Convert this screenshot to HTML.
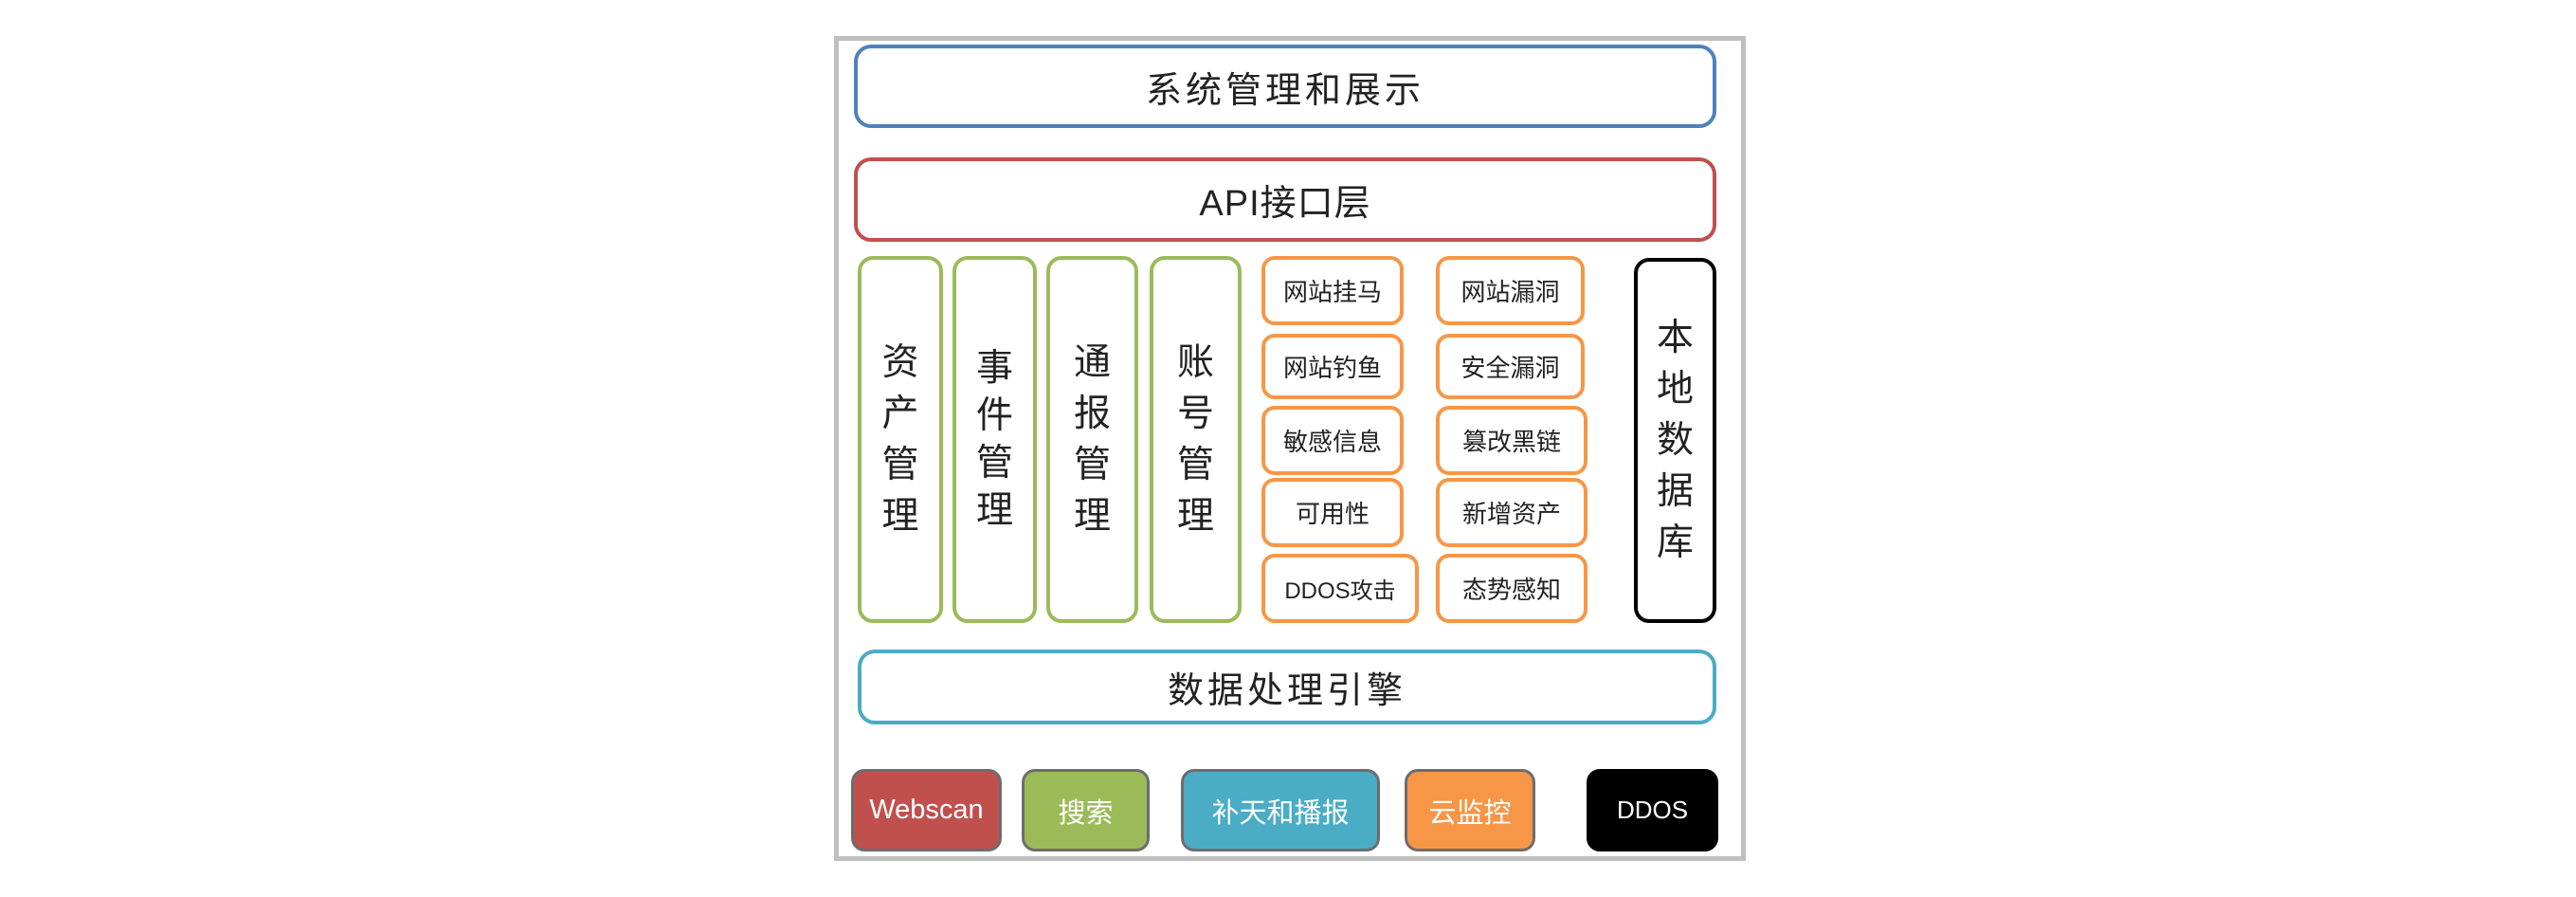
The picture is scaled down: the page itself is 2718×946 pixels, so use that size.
<!DOCTYPE html>
<html><head><meta charset="utf-8"><style>
body{margin:0;width:2718px;height:946px;background:#fff;position:relative;overflow:hidden;font-family:"Liberation Sans","Noto Sans CJK SC",sans-serif;}
.b{position:absolute;box-sizing:border-box;display:flex;align-items:center;justify-content:center;text-align:center;color:#222;}
.frame{left:880px;top:38px;width:962px;height:870px;border:5px solid #bfbfbf;}
.wide{border-radius:18px;border:4px solid;font-size:38px;letter-spacing:4px;}
.col{border:4px solid #9bbb59;border-radius:16px;font-size:39px;line-height:54px;top:270px;height:387px;}
.o{border:4px solid #f79646;border-radius:14px;font-size:26px;}
.bt{border-radius:14px;border:3px solid #6d6d6d;color:#fff;font-size:29px;top:811px;height:87px;}
</style></head><body>
<div class="b frame"></div>
<div class="b wide" style="left:901px;top:47px;width:910px;height:88px;border-color:#4f81bd">系统管理和展示</div>
<div class="b wide" style="left:901px;top:166px;width:910px;height:89px;border-color:#c0504d;letter-spacing:1px">API接口层</div>
<div class="b col" style="left:905px;width:90px">资<br>产<br>管<br>理</div>
<div class="b col" style="left:1005px;width:89px;line-height:50px">事<br>件<br>管<br>理</div>
<div class="b col" style="left:1104px;width:97px">通<br>报<br>管<br>理</div>
<div class="b col" style="left:1213px;width:97px">账<br>号<br>管<br>理</div>
<div class="b o" style="left:1331px;top:270px;width:150px;height:73px">网站挂马</div>
<div class="b o" style="left:1331px;top:352px;width:150px;height:69px">网站钓鱼</div>
<div class="b o" style="left:1331px;top:428px;width:150px;height:73px">敏感信息</div>
<div class="b o" style="left:1331px;top:504px;width:150px;height:73px">可用性</div>
<div class="b o" style="left:1331px;top:584px;width:166px;height:73px;font-size:24px">DDOS攻击</div>
<div class="b o" style="left:1515px;top:270px;width:157px;height:73px">网站漏洞</div>
<div class="b o" style="left:1515px;top:352px;width:157px;height:69px">安全漏洞</div>
<div class="b o" style="left:1515px;top:428px;width:160px;height:73px">篡改黑链</div>
<div class="b o" style="left:1515px;top:504px;width:160px;height:73px">新增资产</div>
<div class="b o" style="left:1515px;top:584px;width:160px;height:73px">态势感知</div>
<div class="b" style="left:1724px;top:272px;width:87px;height:385px;border:4px solid #000;border-radius:16px;font-size:39px;line-height:54px">本<br>地<br>数<br>据<br>库</div>
<div class="b wide" style="left:905px;top:685px;width:906px;height:79px;border-color:#4bacc6">数据处理引擎</div>
<div class="b bt" style="left:898px;width:159px;background:#c0504d">Webscan</div>
<div class="b bt" style="left:1078px;width:135px;background:#9bbb59">搜索</div>
<div class="b bt" style="left:1246px;width:210px;background:#4bacc6">补天和播报</div>
<div class="b bt" style="left:1482px;width:138px;background:#f79646">云监控</div>
<div class="b bt" style="left:1674px;width:139px;background:#000;border-color:#000;font-size:26px">DDOS</div>
</body></html>
